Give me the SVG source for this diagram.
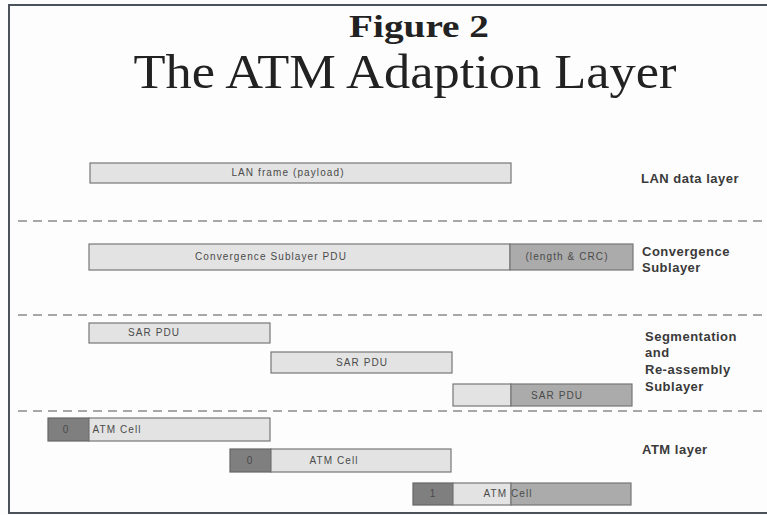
<svg xmlns="http://www.w3.org/2000/svg" width="767" height="515" viewBox="0 0 767 515">
  <style>
    .frame { fill: none; stroke: #4b525a; stroke-width: 2; }
    .sep { stroke: #8a8a8a; stroke-width: 1.6; stroke-dasharray: 9 6; fill: none; }
    .light { fill: #e3e3e3; stroke: #777; stroke-width: 1.2; }
    .dark { fill: #ababab; stroke: #777; stroke-width: 1.2; }
    .hdr { fill: #7f7f7f; stroke: #666; stroke-width: 1.2; }
    .lbl { font-family: "Liberation Sans", Arial, sans-serif; font-size: 10px; letter-spacing: 1.1px; fill: #4a4a4a; text-anchor: middle; }
    .side { font-family: "Liberation Sans", Arial, sans-serif; font-size: 13px; letter-spacing: 0.5px; font-weight: bold; fill: #3a3a3a; }
    .ttl { font-family: "Liberation Serif", "Times New Roman", serif; fill: #222; text-anchor: middle; }
  </style>
  <rect width="767" height="515" fill="#fdfdfd"/>
  <!-- page frame -->
  <path class="frame" d="M767 5 H9 V513 H767"/>

  <!-- title -->
  <text class="ttl" x="419" y="37" font-size="32" font-weight="bold" textLength="140" lengthAdjust="spacingAndGlyphs">Figure 2</text>
  <text class="ttl" x="405" y="88" font-size="48" textLength="543" lengthAdjust="spacingAndGlyphs">The ATM Adaption Layer</text>

  <!-- layer separators -->
  <g id="separators">
    <line class="sep" x1="18" y1="221" x2="767" y2="221"/>
    <line class="sep" x1="18" y1="315" x2="767" y2="315"/>
    <line class="sep" x1="18" y1="411" x2="767" y2="411"/>
  </g>

  <!-- LAN data layer -->
  <g id="lan-frame">
    <rect class="light" x="90" y="163" width="421" height="20"/>
    <text class="lbl" x="288" y="176">LAN frame (payload)</text>
  </g>

  <!-- Convergence sublayer -->
  <g id="cs-pdu">
    <rect class="light" x="89" y="244" width="421" height="26"/>
    <rect class="dark" x="510" y="244" width="123" height="26"/>
    <text class="lbl" x="271" y="260">Convergence Sublayer PDU</text>
    <text class="lbl" x="567" y="260">(length &amp; CRC)</text>
  </g>

  <!-- SAR sublayer -->
  <g id="sar-pdu-1">
    <rect class="light" x="89" y="323" width="181" height="20"/>
    <text class="lbl" x="154" y="336">SAR PDU</text>
  </g>
  <g id="sar-pdu-2">
    <rect class="light" x="271" y="352" width="181" height="21"/>
    <text class="lbl" x="362" y="366">SAR PDU</text>
  </g>
  <g id="sar-pdu-3">
    <rect class="light" x="453" y="384" width="58" height="22"/>
    <rect class="dark" x="511" y="384" width="121" height="22"/>
    <text class="lbl" x="557" y="399">SAR PDU</text>
  </g>

  <!-- ATM layer -->
  <g id="atm-cell-1">
    <rect class="hdr" x="48" y="418" width="41" height="23"/>
    <rect class="light" x="89" y="418" width="181" height="23"/>
    <text class="lbl" x="66" y="433">0</text>
    <text class="lbl" x="117" y="433">ATM Cell</text>
  </g>
  <g id="atm-cell-2">
    <rect class="hdr" x="230" y="449" width="41" height="23"/>
    <rect class="light" x="271" y="449" width="180" height="23"/>
    <text class="lbl" x="250" y="464">0</text>
    <text class="lbl" x="334" y="464">ATM Cell</text>
  </g>
  <g id="atm-cell-3">
    <rect class="hdr" x="413" y="483" width="40" height="22"/>
    <rect class="light" x="453" y="483" width="58" height="22"/>
    <rect class="dark" x="511" y="483" width="120" height="22"/>
    <text class="lbl" x="433" y="497">1</text>
    <text class="lbl" x="508" y="497">ATM Cell</text>
  </g>

  <!-- layer names -->
  <g id="layer-names">
    <text class="side" x="641" y="183">LAN data layer</text>
    <text class="side" x="642" y="256">Convergence</text>
    <text class="side" x="642" y="272">Sublayer</text>
    <text class="side" x="645" y="341">Segmentation</text>
    <text class="side" x="645" y="357">and</text>
    <text class="side" x="645" y="374">Re-assembly</text>
    <text class="side" x="645" y="391">Sublayer</text>
    <text class="side" x="642" y="454">ATM layer</text>
  </g>
</svg>
